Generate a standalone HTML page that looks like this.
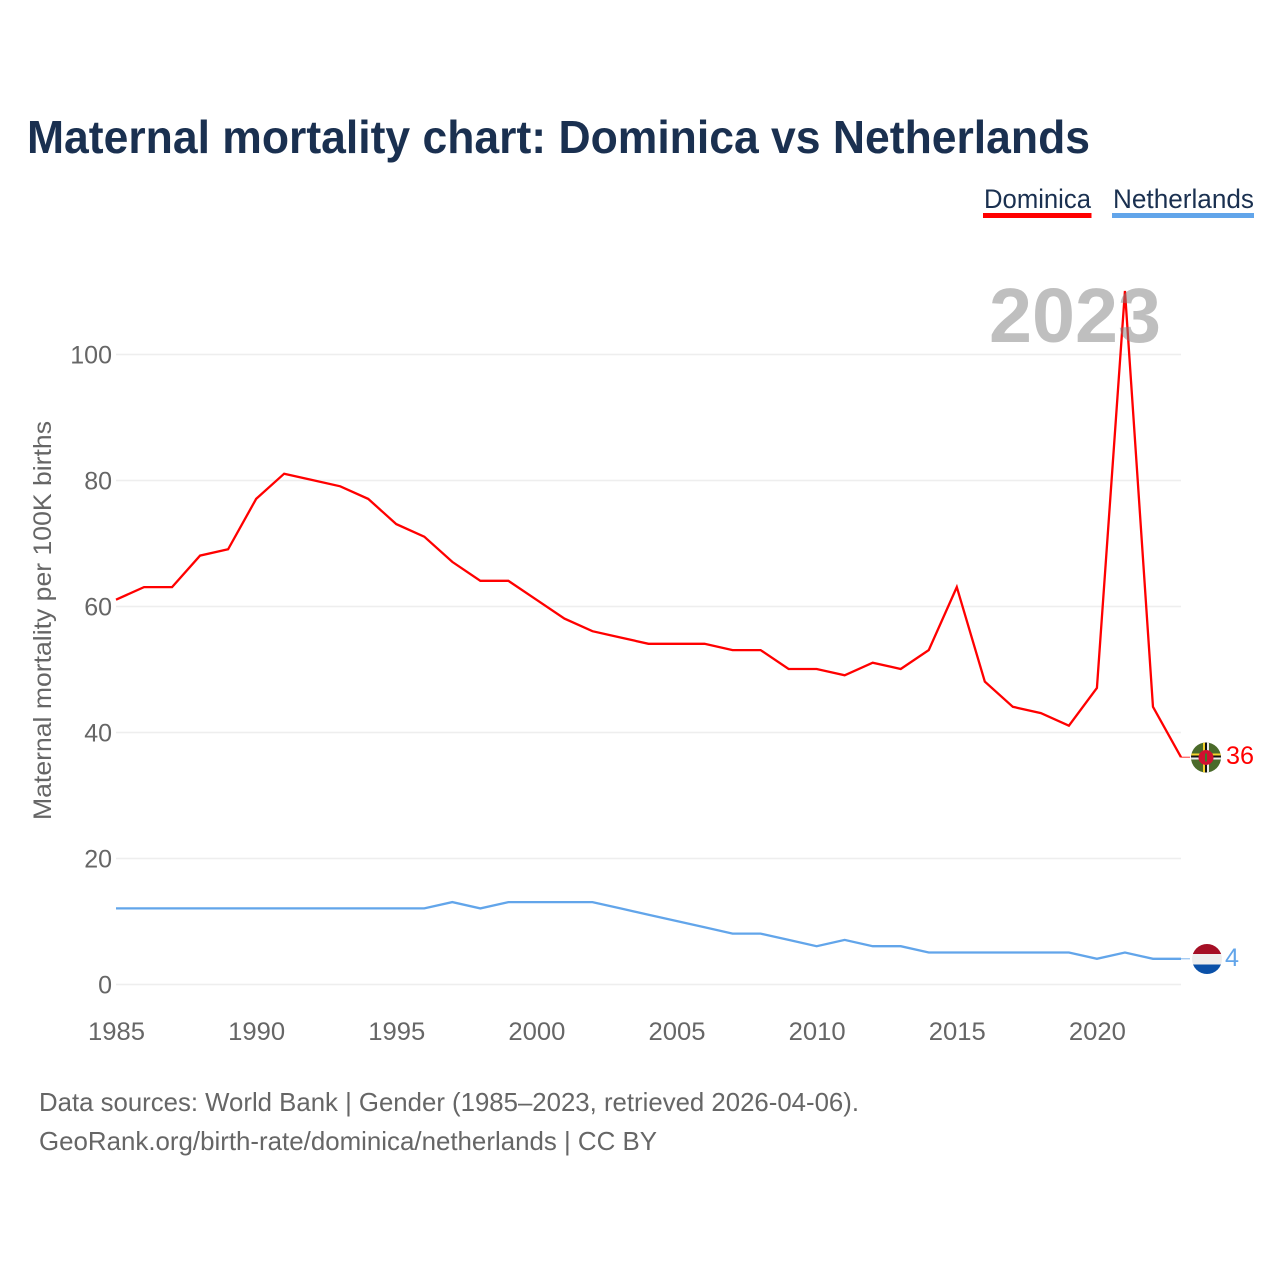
<!DOCTYPE html>
<html>
<head>
<meta charset="utf-8">
<style>
html,body{margin:0;padding:0;background:#fff;}
svg{display:block;}
text{font-family:"Liberation Sans",sans-serif;}
</style>
</head>
<body>
<svg id="chart" width="1280" height="1280" viewBox="0 0 1280 1280" xmlns="http://www.w3.org/2000/svg">
  <defs>
    <clipPath id="clip-dm"><circle cx="1206" cy="757.5" r="15"/></clipPath>
    <clipPath id="clip-nl"><circle cx="1207" cy="959" r="15"/></clipPath>
  </defs>
  <rect x="0" y="0" width="1280" height="1280" fill="#ffffff"/>
  <text x="27" y="153" font-size="46" font-weight="700" fill="#1a3050" textLength="1063" lengthAdjust="spacingAndGlyphs">Maternal mortality chart: Dominica vs Netherlands</text>

  <g>
    <text x="984" y="208" font-size="27" fill="#1a3050" textLength="107" lengthAdjust="spacingAndGlyphs">Dominica</text>
    <rect x="983" y="213" width="108.500" height="5" fill="#ff0000"/>
  </g>
  <g>
    <text x="1113" y="208" font-size="27" fill="#1a3050" textLength="141" lengthAdjust="spacingAndGlyphs">Netherlands</text>
    <rect x="1112" y="213" width="142" height="5" fill="#62a5ea"/>
  </g>

  <g id="grid"></g>
  <g id="y-ticks"></g>
  <g id="x-ticks"></g>

  <text transform="translate(51,820) rotate(-90)" x="0" y="0" font-size="25" fill="#666666" textLength="399" lengthAdjust="spacingAndGlyphs">Maternal mortality per 100K births</text>

  <g id="series"></g>

  <text x="989" y="342" font-size="77" font-weight="700" fill="#808080" fill-opacity="0.5" textLength="172" lengthAdjust="spacingAndGlyphs">2023</text>

  <g clip-path="url(#clip-dm)">
    <rect x="1190" y="742" width="32" height="32" fill="#4a6a2a"/>
    <rect x="1203" y="742" width="2" height="32" fill="#f5d22e"/>
    <rect x="1205" y="742" width="2" height="32" fill="#111111"/>
    <rect x="1207" y="742" width="2" height="32" fill="#eeeeee"/>
    <rect x="1190" y="753.500" width="32" height="2" fill="#f5d22e"/>
    <rect x="1190" y="755.500" width="32" height="2" fill="#111111"/>
    <rect x="1190" y="757.500" width="32" height="2" fill="#eeeeee"/>
    <circle cx="1206" cy="757.500" r="7.500" fill="#d01030"/>
    <rect x="1205" y="753.500" width="2" height="8" fill="#3c7a2a"/>
  </g>
  <g clip-path="url(#clip-nl)">
    <rect x="1190" y="944" width="34" height="10" fill="#a50f25"/>
    <rect x="1190" y="954" width="34" height="10.500" fill="#eeeeee"/>
    <rect x="1190" y="964.500" width="34" height="10" fill="#0a50a8"/>
  </g>

  <text x="1226" y="764" font-size="25" fill="#ff0000" textLength="28" lengthAdjust="spacingAndGlyphs">36</text>
  <text x="1225" y="966" font-size="25" fill="#62a5ea" textLength="14" lengthAdjust="spacingAndGlyphs">4</text>

  <text x="39" y="1111" font-size="26" fill="#666666" textLength="820" lengthAdjust="spacingAndGlyphs">Data sources: World Bank | Gender (1985–2023, retrieved 2026-04-06).</text>
  <text x="39" y="1150" font-size="26" fill="#666666" textLength="618" lengthAdjust="spacingAndGlyphs">GeoRank.org/birth-rate/dominica/netherlands | CC BY</text>
</svg>
<script>
const years = [1985,1986,1987,1988,1989,1990,1991,1992,1993,1994,1995,1996,1997,1998,1999,2000,2001,2002,2003,2004,2005,2006,2007,2008,2009,2010,2011,2012,2013,2014,2015,2016,2017,2018,2019,2020,2021,2022,2023];
const dominica = [61,63,63,68,69,77,81,80,79,77,73,71,67,64,64,61,58,56,55,54,54,54,53,53,50,50,49,51,50,53,63,48,44,43,41,47,110,44,36];
const netherlands = [12,12,12,12,12,12,12,12,12,12,12,12,13,12,13,13,13,13,12,11,10,9,8,8,7,6,7,6,6,5,5,5,5,5,5,4,5,4,4];
const yTickValues = [0,20,40,60,80,100];
const xTickValues = [1985,1990,1995,2000,2005,2010,2015,2020];

const NS = 'http://www.w3.org/2000/svg';
const plotLeft = 116, plotRight = 1181, plotBase = 984.5, plotTop100 = 354.5;
function xScale(year){ return plotLeft + (year - years[0]) * (plotRight - plotLeft) / (years[years.length - 1] - years[0]); }
function yScale(value){ return plotBase - value * (plotBase - plotTop100) / 100; }
function make(tag, attrs){
  const el = document.createElementNS(NS, tag);
  for (const k in attrs) el.setAttribute(k, attrs[k]);
  return el;
}

const gridLayer = document.getElementById('grid');
const yLayer = document.getElementById('y-ticks');
yTickValues.forEach(function(v){
  const line = make('line', {x1: plotLeft, x2: plotRight, y1: yScale(v), y2: yScale(v), stroke: '#eeeeee', 'stroke-width': 1.5});
  
  
  gridLayer.appendChild(line);
  const label = make('text', {x: 112, y: yScale(v) + 9, 'font-size': 25, fill: '#666666', 'text-anchor': 'end'});
  
  
  label.textContent = String(v);
  yLayer.appendChild(label);
});

const xLayer = document.getElementById('x-ticks');
xTickValues.forEach(function(t){
  const label = make('text', {x: xScale(t) + 0.5, y: 1040, 'font-size': 25, fill: '#666666', 'text-anchor': 'middle', textLength: 57, lengthAdjust: 'spacingAndGlyphs'});
  
  
  label.textContent = String(t);
  xLayer.appendChild(label);
});

const seriesLayer = document.getElementById('series');
function drawSeries(values, color, name){
  const pts = values.map(function(v, i){ return xScale(years[i]).toFixed(2) + ',' + (yScale(v) - 0.5).toFixed(2); }).join(' ');
  const line = make('polyline', {points: pts, fill: 'none', stroke: color, 'stroke-width': 2.3, 'stroke-linejoin': 'miter'});
  
  
  seriesLayer.appendChild(line);
  const lastX = xScale(years[years.length - 1]);
  const lastY = yScale(values[values.length - 1]) - 0.5;
  const lead = make('line', {x1: lastX, x2: lastX + 9, y1: lastY, y2: lastY, stroke: color, 'stroke-width': 1, opacity: 0.8});
  
  
  seriesLayer.appendChild(lead);
}
drawSeries(dominica, '#ff0000', 'line-dominica');
drawSeries(netherlands, '#62a5ea', 'line-netherlands');
</script>
</body>
</html>
